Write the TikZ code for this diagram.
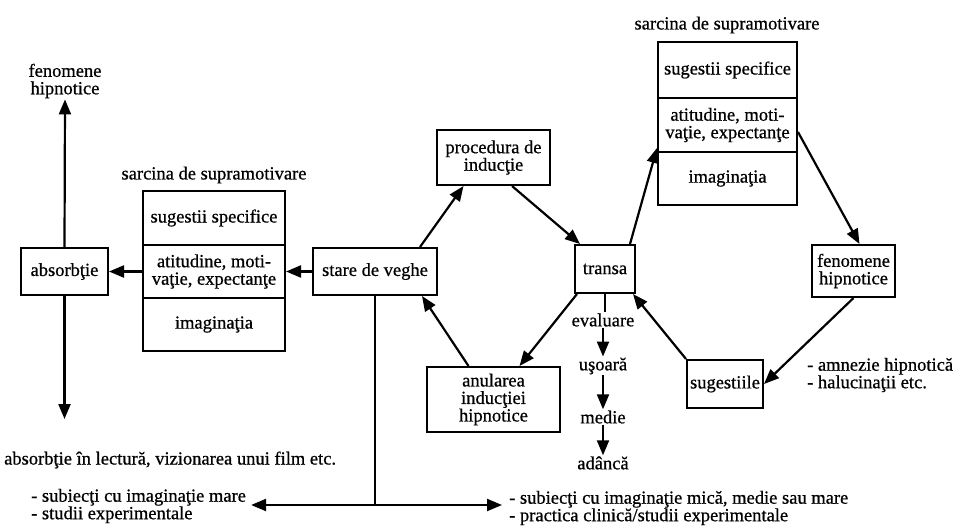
\documentclass[tikz,border=0pt]{standalone}
\usepackage{fontspec}
\setmainfont{Liberation Serif}[FakeBold=0.7]
\usetikzlibrary{arrows.meta}
\begin{document}
\begin{tikzpicture}[x=1pt,y=-1pt,
  every node/.style={font=\fontsize{18.5}{17.5}\selectfont, align=center},
  box/.style={draw, line width=2pt, inner sep=0pt},
  lbl/.style={inner sep=1pt},
  arr/.style={line width=2.2pt, -{Triangle[length=15pt,width=12pt]}},
  ln/.style={line width=2.2pt}]
\useasboundingbox (0,0) rectangle (956,527);
% left group
\node[lbl] (fenL) at (65,81) {fenomene\\hipnotice};
\node[box, minimum width=87pt, minimum height=47pt] (absorb) at (64.5,271.5) {absorbţie};
\coordinate (absEnd) at (65,419);
\node[lbl, anchor=west] (absText) at (3,460) {absorbţie în lectură, vizionarea unui film etc.};
\node[lbl] (Ltitle) at (214,175) {sarcina de supramotivare};
\node[box, minimum width=142pt, minimum height=54pt] (L1) at (214,218) {sugestii specifice};
\node[box, minimum width=142pt, minimum height=53pt] (L2) at (214,271.5) {atitudine, moti-\\vaţie, expectanţe};
\node[box, minimum width=142pt, minimum height=53pt] (L3) at (214,324.5) {imaginaţia};
% centre
\node[box, minimum width=124pt, minimum height=47pt] (stare) at (375,271.5) {stare de veghe};
\node[box, minimum width=113pt, minimum height=55pt] (proc) at (493.5,157.5) {procedura de\\inducţie};
\node[box, minimum width=60pt, minimum height=48pt] (transa) at (605,269) {transa};
\node[box, minimum width=133pt, minimum height=65pt] (anul) at (493.5,399.5) {anularea\\inducţiei\\hipnotice};
\node[lbl] (eval) at (603,320) {evaluare};
\node[lbl] (usoara) at (603,366) {uşoară};
\node[lbl] (medie) at (603,417) {medie};
\node[lbl] (adanca) at (603,463) {adâncă};
% right group
\node[lbl] (Rtitle) at (727,25) {sarcina de supramotivare};
\node[box, minimum width=139pt, minimum height=56pt] (R1) at (727.5,70) {sugestii specifice};
\node[box, minimum width=139pt, minimum height=54pt] (R2) at (727.5,125) {atitudine, moti-\\vaţie, expectanţe};
\node[box, minimum width=139pt, minimum height=53pt] (R3) at (727.5,178.5) {imaginaţia};
\node[box, minimum width=83pt, minimum height=52pt] (fenR) at (853.5,271) {fenomene\\hipnotice};
\node[box, minimum width=76pt, minimum height=48pt] (sug) at (725,384) {sugestiile};
\node[lbl, anchor=west, align=left] (amn) at (806,375) {- amnezie hipnotică\\- halucinaţii etc.};
% bottom
\node[lbl, anchor=west, align=left] (botL) at (30,506) {- subiecţi cu imaginaţie mare\\- studii experimentale};
\node[lbl, anchor=west, align=left] (botR) at (508,508) {- subiecţi cu imaginaţie mică, medie sau mare\\- practica clinică/studii experimentale};
\coordinate (j) at (375,505);
% connectors
\draw[arr] (stare.west) -- (stare.west -| L2.east);
\draw[arr] (L2.west |- absorb.east) -- (absorb.east);
\draw[arr] (absorb.north) -- (fenL.south);
\draw[arr] (absorb.south) -- (absorb.south |- absEnd);
\draw[arr] ([xshift=45pt]stare.north) -- ([xshift=-30pt]proc.south);
\draw[arr] ([xshift=18.5pt]proc.south) -- ([xshift=-25pt]transa.north);
\draw[arr] ([xshift=-28pt]transa.south) -- ([xshift=26pt]anul.north);
\draw[arr] ([xshift=-25pt]anul.north) -- ([xshift=47pt]stare.south);
\draw[arr] ([xshift=25pt]transa.north) -- ([yshift=5pt]R2.south west);
\draw[arr] ([yshift=-7pt]R2.east) -- ([xshift=6pt]fenR.north);
\draw[arr] (fenR.south) -- (sug.east);
\draw[arr] (sug.north west) -- ([xshift=-3pt]transa.south east);
\draw[ln] (transa.south) -- (transa.south |- eval.north);
\draw[arr] (eval.south) -- (usoara.north);
\draw[arr] (usoara.south) -- (medie.north);
\draw[arr] (medie.south) -- (adanca.north);
\draw[ln] (stare.south) -- (j);
\draw[arr] (j) -- ([xshift=4pt]j -| botL.east);
\draw[arr] (j) -- ([xshift=-6pt]j -| botR.west);
\end{tikzpicture}
\end{document}
